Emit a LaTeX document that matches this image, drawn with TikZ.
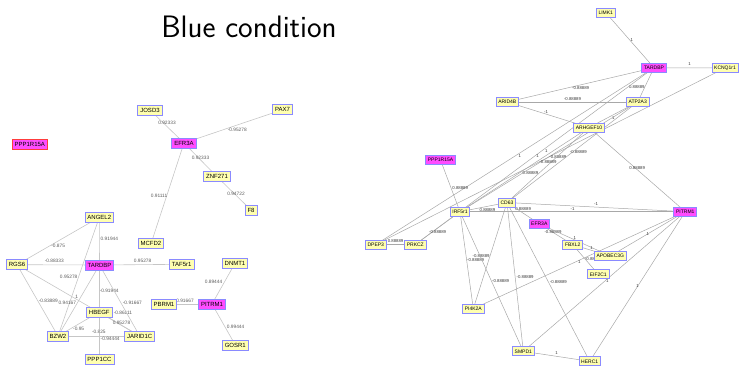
\documentclass[tikz,border=0pt]{standalone}
\usepackage{fontspec}
\newfontfamily\nodefont{Liberation Sans}
\usetikzlibrary{backgrounds}
\definecolor{nyel}{HTML}{FFFFB0}
\definecolor{nmag}{HTML}{FF4CFF}
\definecolor{nbord}{HTML}{8A8AFF}
\definecolor{nred}{HTML}{FF3C3C}
\definecolor{eleft}{HTML}{C6C6C6}
\definecolor{eright}{HTML}{A8A8A8}
\definecolor{lleft}{HTML}{5A5A5A}
\definecolor{lright}{HTML}{3A3A3A}
\tikzset{
 gnode/.style={draw=nbord, fill=nyel, line width=0.9pt, inner xsep=2.5pt, inner ysep=0pt, minimum height=10pt, font=\nodefont\fontsize{6}{7}\selectfont, text=black},
 mnode/.style={gnode, fill=nmag},
 rnode/.style={gnode, minimum height=9pt, inner xsep=2.2pt, font=\nodefont\fontsize{5}{6}\selectfont},
 rmnode/.style={rnode, fill=nmag},
 ledge/.style={draw=eleft, line width=0.6pt},
 redge/.style={draw=eright, line width=0.5pt},
 llab/.style={font=\nodefont\fontsize{4.8}{5}\selectfont, text=lleft, inner sep=0pt},
 rlab/.style={font=\nodefont\fontsize{4.3}{5}\selectfont, text=lright, inner sep=0pt},
}
\begin{document}
\begin{tikzpicture}[x=1pt,y=-1pt]
\useasboundingbox (0,0) rectangle (740,365);
\node[anchor=base, font=\fontsize{31}{36}\sffamily, inner sep=0pt] (title) at (249,37) {Blue condition};

% ---------- left graph nodes ----------
\node[mnode, draw=nred] (lppp) at (29.8,144) {PPP1R15A};
\node[gnode] (ljosd) at (150,110) {JOSD3};
\node[gnode] (lpax) at (282.5,109.7) {PAX7};
\node[mnode] (lefr) at (184,143) {EFR3A};
\node[gnode] (lznf) at (217,176.7) {ZNF271};
\node[gnode] (lf8) at (251,210) {F8};
\node[gnode] (lmcfd) at (151,243.7) {MCFD2};
\node[gnode] (langel) at (99.3,217.3) {ANGEL2};
\node[gnode] (lrgs) at (17,264.7) {RGS6};
\node[mnode] (ltar) at (99.5,265) {TARDBP};
\node[gnode] (ltaf) at (181.7,264.3) {TAF5r1};
\node[gnode] (ldnmt) at (235,263.3) {DNMT1};
\node[gnode] (lpbrm) at (164,304) {PBRM1};
\node[mnode] (lpit) at (212,304) {PITRM1};
\node[gnode] (lgosr) at (235.3,345) {GOSR1};
\node[gnode] (lhbegf) at (99.3,312) {HBEGF};
\node[gnode] (lbzw) at (58,336) {BZW2};
\node[gnode] (ljarid) at (139.7,336) {JARID1C};
\node[gnode] (lppp1cc) at (99.5,359) {PPP1CC};

% ---------- right graph nodes ----------
\node[rnode] (rlimk) at (605.8,12.7) {LIMK1};
\node[rmnode] (rtar) at (654,67.7) {TARDBP};
\node[rnode] (rkcnq) at (725,68) {KCNQ1r1};
\node[rnode] (rarid) at (507.3,102) {ARID4B};
\node[rnode] (ratp) at (637.7,102) {ATP2A3};
\node[rnode] (rarh) at (589,127.5) {ARHGEF10};
\node[rmnode] (rppp) at (440.5,160) {PPP1R15A};
\node[rnode] (rcd) at (507,202.5) {CD63};
\node[rnode] (rirf) at (460,211.7) {IRF5r1};
\node[rmnode] (refr) at (539.3,223.8) {EFR3A};
\node[rnode] (rdpep) at (375.8,244.5) {DPEP3};
\node[rnode] (rprk) at (415.3,244.5) {PRKCZ};
\node[rmnode] (rpit) at (685.3,211.7) {PITRM1};
\node[rnode] (rfbx) at (572.7,244.7) {FBXL2};
\node[rnode] (rapo) at (610.3,256) {APOBEC3G};
\node[rnode] (reif) at (598.3,274.3) {EIF2C1};
\node[rnode] (rpi) at (473.3,308.7) {PI4K2A};
\node[rnode] (rsmpd) at (523.3,351.3) {SMPD1};
\node[rnode] (rherc) at (589.7,361.3) {HERC1};

\begin{scope}[on background layer]
% ---------- left edges ----------
\draw[ledge] (ljosd.center) -- (lefr.center) node[llab, midway, yshift=4pt] {0.92333};
\draw[ledge] (lefr.center) -- (lpax.center) node[llab, midway, xshift=4pt, yshift=-3pt] {-0.95278};
\draw[ledge] (lefr.center) -- (lznf.center) node[llab, midway, yshift=2pt] {0.92333};
\draw[ledge] (lznf.center) -- (lf8.center) node[llab, midway, xshift=2pt] {0.94722};
\draw[ledge] (lefr.center) -- (lmcfd.center) node[llab, midway, anchor=east, yshift=-2pt] {0.91111};
\draw[ledge] (langel.center) -- (ltar.center) node[llab, midway, anchor=west, xshift=1pt, yshift=2pt] {0.91944};
\draw[ledge] (langel.center) -- (lrgs.center) node[llab, midway, yshift=-5pt] {-0.875};
\draw[ledge] (lrgs.center) -- (ltar.center) node[llab, midway, xshift=-4pt, yshift=4pt] {-0.88333};
\draw[ledge] (ltar.center) -- (ltaf.center) node[llab, midway, xshift=2pt, yshift=4pt] {0.95278};
\draw[ledge] (langel.center) -- (lbzw.center) node[llab, midway, anchor=east, xshift=-1pt] {0.95278};
\draw[ledge] (lrgs.center) -- (lbzw.center) node[llab, midway, anchor=west, xshift=1pt] {-0.83889};
\draw[ledge] (lrgs.center) -- (ljarid.center) node[llab, midway, anchor=east, xshift=-2pt, yshift=-2pt] {0.94167};
\draw[ledge] (ltar.center) -- (lbzw.center) node[llab, midway, xshift=-2pt, yshift=4pt] {1};
\draw[ledge] (ltar.center) -- (lhbegf.center) node[llab, midway, anchor=west, yshift=-2pt] {-0.91944};
\draw[ledge] (ltar.center) -- (lppp1cc.center) node[llab, midway, anchor=west, xshift=14pt, yshift=-1pt] {-0.86111};
\draw[ledge] (ltar.center) -- (ljarid.center) node[llab, midway, anchor=west, xshift=3pt, yshift=-2pt] {-0.91667};
\draw[ledge] (lhbegf.center) -- (lbzw.center) node[llab, midway, yshift=-5pt] {-0.95};
\draw[ledge] (lhbegf.center) -- (ljarid.center) node[llab, midway, xshift=2pt, yshift=1pt] {0.95278};
\draw[ledge] (lbzw.center) -- (ljarid.center) node[llab, midway, yshift=4pt] {-0.825};
\draw[ledge] (lhbegf.center) -- (lppp1cc.center) node[llab, midway, anchor=west, xshift=1pt, yshift=-3pt] {-0.94444};
\draw[ledge] (lpbrm.center) -- (lpit.center) node[llab, midway, xshift=-3pt, yshift=3pt] {0.91667};
\draw[ledge] (ldnmt.center) -- (lpit.center) node[llab, midway, anchor=east, xshift=-1pt, yshift=2pt] {0.89444};
\draw[ledge] (lpit.center) -- (lgosr.center) node[llab, midway, anchor=west, xshift=3pt, yshift=-2pt] {0.99444};

% ---------- right edges ----------
\draw[redge] (rlimk.center) -- (rtar.center) node[rlab, midway, xshift=2pt] {1};
\draw[redge] (rtar.center) -- (rkcnq.center) node[rlab, midway, yshift=4pt] {1};
\draw[redge] (rtar.center) -- (rarid.center) node[rlab, midway, yshift=-3pt] {-0.88889};
\draw[redge] (rarid.center) -- (ratp.center) node[rlab, midway, yshift=3pt] {-0.88889};
\draw[redge] (rtar.center) -- (ratp.center) node[rlab, midway, xshift=-9pt, yshift=-2pt] {0.88889};
\draw[redge] (rarid.center) -- (rarh.center) node[rlab, midway, xshift=-2pt, yshift=3pt] {-1};
\draw[redge] (rtar.center) -- (rdpep.center) node[rlab, midway, xshift=5pt] {1};
\draw[redge] (rtar.center) -- (rprk.center) node[rlab, midway, xshift=3pt] {1};
\draw[redge] (rkcnq.center) -- (rdpep.center) node[rlab, midway, xshift=-4pt, yshift=5pt] {1};
\draw[redge] (ratp.center) -- (rarh.center) node[rlab, midway, yshift=-3pt] {1};
\draw[redge] (ratp.center) -- (rirf.center) node[rlab, midway, xshift=9pt] {-0.88889};
\draw[redge] (rarh.center) -- (rcd.center) node[rlab, midway, yshift=3pt] {-0.88889};
\draw[redge] (ratp.center) -- (rcd.center) node[rlab, midway, xshift=6pt] {-0.88889};
\draw[redge] (rarh.center) -- (rirf.center) node[rlab, midway, xshift=6pt, yshift=-3pt] {0.88889};
\draw[redge] (rarh.center) -- (rpit.center) node[rlab, midway, yshift=2pt] {0.88889};
\draw[redge] (rppp.center) -- (rirf.center) node[rlab, midway, xshift=10pt, yshift=-2pt] {0.88889};
\draw[redge] (rdpep.center) -- (rprk.center) node[rlab, midway, yshift=3pt] {0.88889};
\draw[redge] (rirf.center) -- (rprk.center) node[rlab, midway, yshift=-4pt] {-0.88889};
\draw[redge] (rirf.center) -- (rcd.center) node[rlab, midway, xshift=4pt, yshift=-3pt] {0.88889};
\draw[redge] (rirf.center) -- (rpit.center) node[rlab, midway, yshift=3pt] {-1};
\draw[redge] (rcd.center) -- (rpit.center) node[rlab, midway, yshift=3pt] {-1};
\draw[redge] (rcd.center) -- (refr.center) node[rlab, midway, yshift=4pt] {0.88889};
\draw[redge] (rirf.center) -- (rpi.center) node[rlab, midway, xshift=9pt] {-0.88889};
\draw[redge] (rcd.center) -- (rpi.center) node[rlab, midway, xshift=-9pt] {-0.88889};
\draw[redge] (rirf.center) -- (rsmpd.center) node[rlab, midway, xshift=9pt] {-0.88889};
\draw[redge] (rcd.center) -- (rsmpd.center) node[rlab, midway, xshift=10pt] {-0.88889};
\draw[redge] (rcd.center) -- (rherc.center) node[rlab, midway, xshift=10pt] {-0.88889};
\draw[redge] (refr.center) -- (rfbx.center) node[rlab, midway, xshift=-3pt, yshift=2pt] {-0.88889};
\draw[redge] (refr.center) -- (rapo.center) node[rlab, midway, yshift=2pt] {1};
\draw[redge] (rfbx.center) -- (rapo.center) node[rlab, midway, yshift=2pt] {1};
\draw[redge] (rfbx.center) -- (reif.center) node[rlab, midway, xshift=8pt] {-0.88889};
\draw[redge] (rpit.center) -- (rapo.center) node[rlab, midway] {1};
\draw[redge] (rpi.center) -- (rpit.center) node[rlab, midway, yshift=-2pt] {1};
\draw[redge] (rsmpd.center) -- (rpit.center) node[rlab, midway, xshift=3pt] {1};
\draw[redge] (rsmpd.center) -- (rherc.center) node[rlab, midway, yshift=3pt] {1};
\draw[redge] (rherc.center) -- (rpit.center) node[rlab, midway] {1};
\end{scope}
\end{tikzpicture}
\end{document}
